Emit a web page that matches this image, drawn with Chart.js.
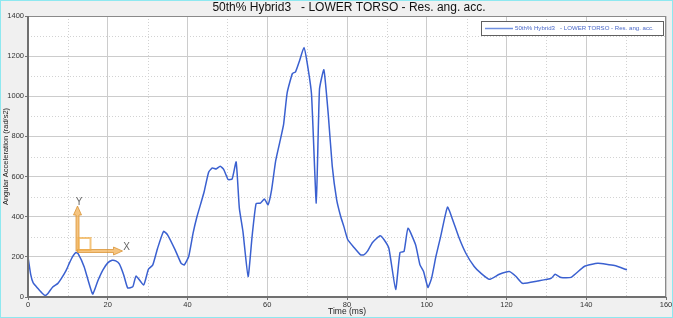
<!DOCTYPE html>
<html>
<head>
<meta charset="utf-8">
<script src="https://cdn.jsdelivr.net/npm/chart.js@4/dist/chart.umd.min.js"></script>
<style>
  html, body { margin: 0; padding: 0; background: #f0f0f0; }
  #wrap { position: relative; width: 673px; height: 318px; background: #f0f0f0; }
  #frame { position: absolute; left: 0; top: 0; width: 671px; height: 316px; border: 1px solid #8ee8f0; pointer-events: none; }
</style>
</head>
<body>
<div id="wrap">
  <canvas id="accChart" width="673" height="318"></canvas>
  <div id="frame"></div>
</div>
<script>
// Curve data (time in ms, acceleration in rad/s2)
const timeMs = [0, 0.7, 1.3, 2.5, 3.5, 4.3, 5, 6.2, 7.5, 8.3, 9.5, 10.4, 11.3, 12, 12.6, 14.1, 16.2, 17.5, 18.8, 20,
  21.1, 22, 22.9, 24, 25, 26.3, 27.1, 29, 30.2, 31.3, 32.5,
  34, 35, 36.9, 38.4, 39.2, 40.3, 41.4, 42.4, 43.5, 44.2, 45.3, 46.2, 47.2, 48.2, 49.1, 50.2, 51.2, 52.2, 53, 53.9,
  55.2, 56.2, 57.2, 58.3, 59.3, 60.2, 61.1, 62.1, 63.3, 64.1, 65, 66.3, 67.1, 68.1, 69.2, 70, 71.1, 72.3, 73.1, 74.2,
  75.3, 76.3, 77.4, 78.4, 79.2, 80.2, 81.7, 83.4, 84.2, 85.1, 86.4, 88.3, 89.3, 90.5, 92.2, 93.3, 94.3, 95.3, 97.2, 98.3,
  99.2, 100.3, 101.2, 102.3, 103.5, 105.2, 106.5, 108, 109.8, 111.9, 113.5, 115.7, 118.2, 120.7, 122.4, 124, 127.8, 131.2, 132.2, 133.7,
  136.2, 139.5, 142.9, 147.1, 150.2];
const angAcc = [200, 110, 70, 42, 20, 8, 18, 50, 68, 90, 130, 170, 205, 222, 215, 150, 15, 80, 135, 170,
  183, 180, 165, 110, 45, 52, 105, 60, 138, 160, 243,
  327, 310, 235, 168, 160, 202, 318, 402, 477, 527, 622, 643, 638, 652, 635, 585, 588, 673, 443, 327,
  102, 302, 465, 468, 488, 460, 535, 677, 785, 860, 1018, 1113, 1122, 1177, 1243, 1168, 1010, 468, 1035, 1132,
  910, 652, 485, 402, 352, 285, 248, 210, 210, 227, 272, 305, 285, 243, 38, 222, 227, 343, 260, 160,
  127, 48, 93, 202, 302, 448, 385, 300, 218, 152, 120, 88, 113, 127, 102, 68, 80, 93, 113, 97,
  98, 152, 168, 157, 135];
const xMinorTicks = [10, 30, 50, 70, 90, 110, 130, 150];
const yMinorTicks = [100, 300, 500, 700, 900, 1100, 1300];

const titleText = '50th% Hybrid3   - LOWER TORSO - Res. ang. acc.';
const lineColor = '#3a60d0';
const FONT = "'Liberation Sans', Arial, sans-serif";

// white plot area + dotted minor grid
const plotBg = {
  id: 'plotBg',
  beforeDraw(chart) {
    const { ctx, chartArea: a, scales } = chart;
    ctx.save();
    ctx.fillStyle = '#ffffff';
    ctx.fillRect(a.left, a.top, a.right - a.left, a.bottom - a.top);
    ctx.strokeStyle = '#d2d2d2';
    ctx.lineWidth = 1;
    ctx.setLineDash([1, 2]);
    ctx.beginPath();
    yMinorTicks.forEach(v => {
      const y = Math.round(scales.y.getPixelForValue(v)) + 0.5;
      ctx.moveTo(a.left, y); ctx.lineTo(a.right, y);
    });
    xMinorTicks.forEach(v => {
      const x = Math.round(scales.x.getPixelForValue(v)) + 0.5;
      ctx.moveTo(x, a.top); ctx.lineTo(x, a.bottom);
    });
    ctx.stroke();
    ctx.restore();
  }
};

// title, frame, legend box and the XY triad overlay
const decor = {
  id: 'decor',
  afterDraw(chart) {
    const { ctx, chartArea: a } = chart;
    ctx.save();
    // frame
    ctx.strokeStyle = '#8a8a8a';
    ctx.lineWidth = 1;
    ctx.strokeRect(a.left + 0.5, a.top + 0.5, a.right - a.left - 1, a.bottom - a.top);
    ctx.strokeStyle = '#707070';
    ctx.lineWidth = 2;
    ctx.beginPath();
    ctx.moveTo(a.left, a.top); ctx.lineTo(a.left, a.bottom); ctx.lineTo(a.right, a.bottom);
    ctx.stroke();

    // title
    ctx.fillStyle = '#111';
    ctx.font = '12px ' + FONT;
    ctx.textAlign = 'center';
    ctx.textBaseline = 'middle';
    ctx.fillText(titleText, (a.left + a.right) / 2 + 2, 8);

    // legend
    const lx = a.right - 185, ly = a.top + 5, lw = 182, lh = 14;
    ctx.fillStyle = '#ffffff';
    ctx.fillRect(lx, ly, lw, lh);
    ctx.strokeStyle = '#606060';
    ctx.lineWidth = 1;
    ctx.strokeRect(lx + 0.5, ly + 0.5, lw, lh);
    ctx.strokeStyle = '#7090e0';
    ctx.lineWidth = 1.5;
    ctx.beginPath();
    ctx.moveTo(lx + 4, ly + 7.5); ctx.lineTo(lx + 32, ly + 7.5);
    ctx.stroke();
    ctx.fillStyle = '#4a68c8';
    ctx.font = '6.1px ' + FONT;
    ctx.textAlign = 'left';
    ctx.fillText(titleText, lx + 34, ly + 7.5);

    // XY triad
    const ox = 77.5, oy = 251;
    ctx.globalAlpha = 0.75;
    ctx.fillStyle = '#f2b055';
    ctx.strokeStyle = '#d89030';
    ctx.lineWidth = 1;
    // vertical arrow
    ctx.beginPath();
    ctx.moveTo(ox - 1.5, oy); ctx.lineTo(ox - 1.5, oy - 36); ctx.lineTo(ox - 4, oy - 36);
    ctx.lineTo(ox, oy - 45); ctx.lineTo(ox + 4, oy - 36); ctx.lineTo(ox + 1.5, oy - 36);
    ctx.lineTo(ox + 1.5, oy); ctx.closePath();
    ctx.fill(); ctx.stroke();
    // horizontal arrow
    ctx.beginPath();
    ctx.moveTo(ox, oy - 1.5); ctx.lineTo(ox + 36, oy - 1.5); ctx.lineTo(ox + 36, oy - 4);
    ctx.lineTo(ox + 45, oy); ctx.lineTo(ox + 36, oy + 4); ctx.lineTo(ox + 36, oy + 1.5);
    ctx.lineTo(ox, oy + 1.5); ctx.closePath();
    ctx.fill(); ctx.stroke();
    // small square
    ctx.lineWidth = 2;
    ctx.strokeStyle = '#f0b050';
    ctx.strokeRect(ox + 1, oy - 13, 12, 12);
    ctx.globalAlpha = 1;
    ctx.fillStyle = '#666';
    ctx.font = '10px ' + FONT;
    ctx.textAlign = 'center';
    ctx.fillText('Y', ox + 1.5, oy - 49);
    ctx.fillText('X', ox + 49, oy - 4);
    ctx.restore();
  }
};

const tickFont = { family: FONT, size: 7.5 };

new Chart(document.getElementById('accChart'), {
  type: 'line',
  data: {
    datasets: [{
      label: titleText,
      data: timeMs.map((t, i) => ({ x: t, y: angAcc[i] })),
      borderColor: lineColor,
      borderWidth: 1.5,
      pointRadius: 0,
      tension: 0.15,
      fill: false
    }]
  },
  options: {
    responsive: false,
    animation: false,
    layout: { padding: { top: 16, right: 7, left: 0, bottom: 0 } },
    plugins: { legend: { display: false }, tooltip: { enabled: false } },
    scales: {
      x: {
        type: 'linear', min: 0, max: 160,
        ticks: { stepSize: 20, font: tickFont, color: '#333', padding: 0, maxRotation: 0, callback: v => String(v) },
        grid: { color: '#cccccc', tickLength: 3, tickColor: '#707070' },
        border: { display: false },
        title: { display: true, text: 'Time (ms)', font: { family: FONT, size: 8.5 }, color: '#222', padding: { top: 0, bottom: 1 } },
        afterFit(s) { s.height = 21; }
      },
      y: {
        min: 0, max: 1400,
        ticks: { stepSize: 200, font: tickFont, color: '#333', padding: 1, callback: v => String(v) },
        grid: { color: '#cccccc', tickLength: 3, tickColor: '#707070' },
        border: { display: false },
        title: { display: true, text: 'Angular Acceleration (rad/s2)', font: { family: FONT, size: 7.5 }, color: '#222', padding: { top: 1, bottom: 0 } },
        afterFit(s) { s.width = 28; }
      }
    }
  },
  plugins: [plotBg, decor]
});
</script>
</body>
</html>
